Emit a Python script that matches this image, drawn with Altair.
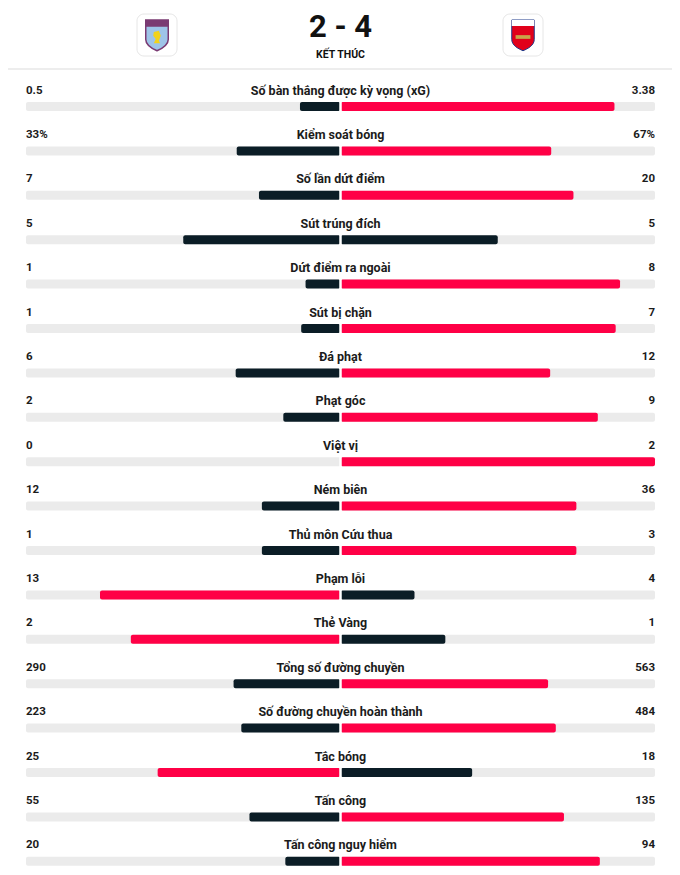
import altair as alt
import pandas as pd

# ---------------- data ----------------
labels = [
    "Số bàn thắng được kỳ vọng (xG)", "Kiểm soát bóng", "Số lần dứt điểm",
    "Sút trúng đích", "Dứt điểm ra ngoài", "Sút bị chặn", "Đá phạt", "Phạt góc",
    "Việt vị", "Ném biên", "Thủ môn Cứu thua", "Phạm lỗi", "Thẻ Vàng",
    "Tổng số đường chuyền", "Số đường chuyền hoàn thành", "Tắc bóng",
    "Tấn công", "Tấn công nguy hiểm",
]
home_vals = [0.5, 33, 7, 5, 1, 1, 6, 2, 0, 12, 1, 13, 2, 290, 223, 25, 55, 20]
away_vals = [3.38, 67, 20, 5, 8, 7, 12, 9, 2, 36, 3, 4, 1, 563, 484, 18, 135, 94]
home_text = ["0.5", "33%", "7", "5", "1", "1", "6", "2", "0", "12", "1", "13", "2",
             "290", "223", "25", "55", "20"]
away_text = ["3.38", "67%", "20", "5", "8", "7", "12", "9", "2", "36", "3", "4", "1",
             "563", "484", "18", "135", "94"]
score_home = 2
score_away = 4
status = "KẾT THÚC"

df = pd.DataFrame({
    "row": list(range(len(labels))), "label": labels,
    "home": home_vals, "away": away_vals,
    "htxt": home_text, "atxt": away_text,
})

# ---------------- layout ----------------
W, H = 664, 859
ROW = 44.4          # px per row
TOP = 98.5          # px of first bar centre
HALF = 314.5        # px of half track
CX = 332.5          # px of centre
FONT = "Roboto"
RED = "#ff0046"
DARK = "#0b1d26"
TEXT = "#1b1b1b"

xmin = -CX / HALF
xmax = (W - CX) / HALF
xs = alt.Scale(domain=[xmin, xmax], nice=False, zero=False)
ys = alt.Scale(domain=[-TOP / ROW, (H - TOP) / ROW], nice=False, zero=False, reverse=True)
cs = alt.Scale(domain=["win", "lose"], range=[RED, DARK])

bh = 4.5 / ROW
base = alt.Chart(df).transform_calculate(
    tot="datum.home + datum.away",
    hx="-datum.home / (datum.home + datum.away)",
    ax="datum.away / (datum.home + datum.away)",
    y0=f"datum.row - {bh}",
    y1=f"datum.row + {bh}",
    g0=f"datum.row - {bh + 0.02}",
    g1=f"datum.row + {bh + 0.02}",
    ly="datum.row - 0.36",
    hres="datum.home > datum.away ? 'win' : 'lose'",
    ares="datum.away > datum.home ? 'win' : 'lose'",
    left="-1", right="1", zero="0",
)

X = lambda f: alt.X(f, scale=xs, axis=None)
Y = lambda f: alt.Y(f, scale=ys, axis=None)

track = base.mark_rect(color="#ebebeb", cornerRadius=2).encode(
    x=X("left:Q"), x2="right:Q", y=Y("y0:Q"), y2="y1:Q")
hbar = base.mark_rect(cornerRadius=2).encode(
    x=X("hx:Q"), x2="zero:Q", y=Y("y0:Q"), y2="y1:Q",
    color=alt.Color("hres:N", scale=cs, legend=None))
abar = base.mark_rect(cornerRadius=2).encode(
    x=X("zero:Q"), x2="ax:Q", y=Y("y0:Q"), y2="y1:Q",
    color=alt.Color("ares:N", scale=cs, legend=None))
gap = base.mark_rule(color="white", strokeWidth=2.5).encode(
    x=X("zero:Q"), y=Y("g0:Q"), y2="g1:Q")

lab = base.mark_text(align="center", font=FONT, fontWeight="bold", fontSize=12.5,
                     color=TEXT, baseline="middle").encode(
    x=X("zero:Q"), y=Y("ly:Q"), text="label:N")
val_kw = dict(font=FONT, fontWeight="bold", fontSize=11.5, color=TEXT, baseline="middle")
htx = base.mark_text(align="left", **val_kw).encode(
    x=X("left:Q"), y=Y("ly:Q"), text="htxt:N")
atx = base.mark_text(align="right", **val_kw).encode(
    x=X("right:Q"), y=Y("ly:Q"), text="atxt:N")

# ---------------- header ----------------
hdr = alt.Chart(pd.DataFrame({
    "score": [f"{score_home} - {score_away}"], "status": [status]
})).transform_calculate(
    sx="0", sy=str((20 - TOP) / ROW), ty=str((47 - TOP) / ROW),
    lx0=str(xmin), lx1=str(xmax), ly=str((61 - TOP) / ROW),
)
score = hdr.mark_text(font=FONT, fontWeight="bold", fontSize=31, color="#111111",
                      align="center", baseline="middle").encode(
    x=X("sx:Q"), y=Y("sy:Q"), text="score:N")
stat = hdr.mark_text(font=FONT, fontWeight="bold", fontSize=10.5, color="#111111",
                     align="center", baseline="middle").encode(
    x=X("sx:Q"), y=Y("ty:Q"), text="status:N")
sep = hdr.mark_rule(color="#ededed", strokeWidth=2).encode(
    x=X("lx0:Q"), x2="lx1:Q", y=Y("ly:Q"))

logo_x = {"home": (149 - CX) / HALF, "away": (515 - CX) / HALF}
logo_cy = (27 - TOP) / ROW
logos = alt.Chart(pd.DataFrame({"team": ["home", "away"]})).transform_calculate(
    cx=f"datum.team == 'home' ? {logo_x['home']} : {logo_x['away']}",
    bx0=f"datum.cx - {20 / HALF}", bx1=f"datum.cx + {20 / HALF}",
    by0=f"{logo_cy} - {21 / ROW}", by1=f"{logo_cy} + {21 / ROW}",
    cy=str(logo_cy),
    cy3=str(logo_cy + 2 / ROW),
)
box = logos.mark_rect(fill="white", stroke="#e6e6e6", strokeWidth=1, cornerRadius=7).encode(
    x=X("bx0:Q"), x2="bx1:Q", y=Y("by0:Q"), y2="by1:Q")

shield = "M-0.75,-1 L0.75,-1 L0.75,0.3 C0.75,0.7 0.3,0.92 0,1.05 C-0.3,0.92 -0.75,0.7 -0.75,0.3 Z"
home_logo = logos.transform_filter("datum.team == 'home'")
away_logo = logos.transform_filter("datum.team == 'away'")
v_shield = home_logo.mark_point(shape=shield, size=900, filled=True, fill="#9ec4e8",
                                stroke="#7a3a72", strokeWidth=1.5, opacity=1).encode(
    x=X("cx:Q"), y=Y("cy:Q"))
v_band = home_logo.mark_point(shape="M-0.75,-1 L0.75,-1 L0.75,-0.55 L-0.75,-0.55 Z",
                              size=900, filled=True, fill="#7a3a72", opacity=1).encode(
    x=X("cx:Q"), y=Y("cy:Q"))
v_lion = home_logo.mark_point(shape="M-0.5,-0.8 L0.3,-1 L0.6,-0.2 L0.3,0.6 L0.5,1 L-0.5,1 L-0.2,0.3 L-0.6,-0.2 Z",
                              size=160, filled=True, fill="#f2d21b", opacity=1).encode(
    x=X("cx:Q"), y=Y("cy3:Q"))
a_shield = away_logo.mark_point(shape=shield, size=900, filled=True, fill="#e1001a",
                                stroke="#1f3a8a", strokeWidth=1, opacity=1).encode(
    x=X("cx:Q"), y=Y("cy:Q"))
a_band = away_logo.mark_point(shape="M-0.75,-1 L0.75,-1 L0.75,-0.6 L-0.75,-0.6 Z",
                              size=900, filled=True, fill="#ffffff", opacity=1).encode(
    x=X("cx:Q"), y=Y("cy:Q"))
a_cannon = away_logo.mark_point(shape="M-1,-0.25 L1,-0.25 L1,0.25 L-1,0.25 Z",
                                size=220, filled=True, fill="#c9a449", opacity=1).encode(
    x=X("cx:Q"), y=Y("cy3:Q"))

chart = alt.layer(
    sep, box, v_shield, v_band, v_lion, a_shield, a_band, a_cannon, score, stat,
    track, hbar, abar, gap, lab, htx, atx,
).properties(
    width=W, height=H, padding=0, autosize=alt.AutoSizeParams(type="none"),
    background="white",
).configure_view(stroke=None)

chart.save("out.html", embed_options={"renderer": "svg", "actions": False})
